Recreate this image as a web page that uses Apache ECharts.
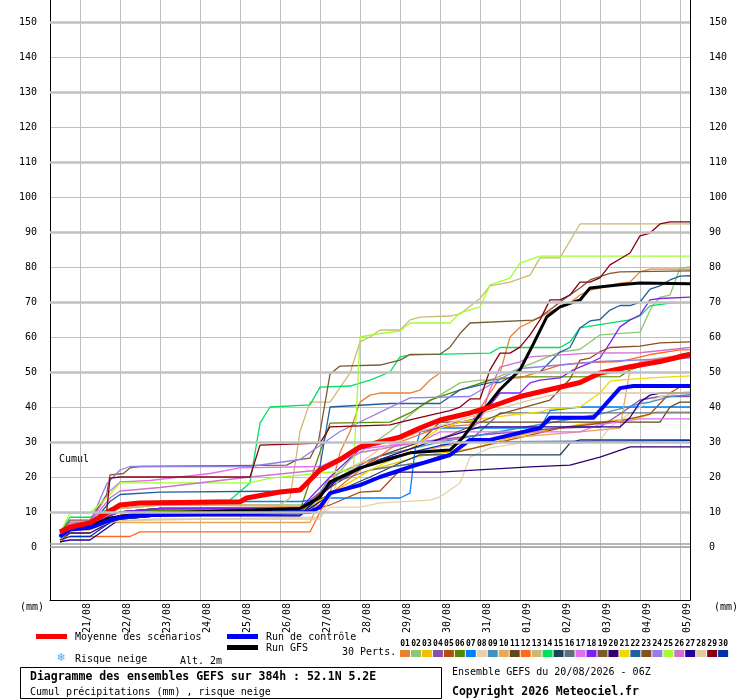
<!DOCTYPE html>
<html><head><meta charset="utf-8">
<script src="https://cdn.jsdelivr.net/npm/echarts@6/dist/echarts.min.js"></script>
<style>html,body{margin:0;padding:0;background:#fff}#c{width:740px;height:700px}</style>
</head><body><div id="c"></div>
<script>
// ---- axis ticks / labels ----
const dateLabels = ['21/08','22/08','23/08','24/08','25/08','26/08','27/08','28/08','29/08','30/08','31/08','01/09','02/09','03/09','04/09','05/09'];
const gridHours = [18,42,66,90,114,138,162,186,210,234,258,282,306,330,354,378];
const labelHours = [22.5,46.5,70.5,94.5,118.5,142.5,166.5,190.5,214.5,238.5,262.5,286.5,310.5,334.5,358.5,382.5];
const yTicks = [0,10,20,30,40,50,60,70,80,90,100,110,120,130,140,150];
const thickLines = [10,30,50,70,90,110,130,150];
const memberNames = ['01','02','03','04','05','06','07','08','09','10','11','12','13','14','15','16','17','18','19','20','21','22','23','24','25','26','27','28','29','30'];
const memberColors = ['#E8822E','#8CC870','#F0C000','#8850A8','#B05010','#588800','#0080FF','#E8D0A8','#4090C0','#E8A858','#604818','#FF6820','#D0B870','#00E060','#204058','#607078','#E070F0','#8020F0','#7A5A30','#300070','#F0D800','#2060A0','#885020','#9080E8','#A0FF30','#D070D0','#200098','#E0C8A0','#880010','#0030B0'];

// ---- series values: [forecast hour from 20/08 06Z, cumulated mm] ----
const m01 = [[6,3],[12,6],[24,6],[36,9],[42,10],[66,11],[150,11.5],[162,12],[168,15.4],[174,27],[180,33],[186,41.4],[192,43.4],[198,44],[216,44],[222,44.8],[228,47.7],[234,49.7],[270,49.7],[276,60],[282,62.8],[294,65.7],[302,67.7],[310,69],[318,72],[324,73.4],[330,74],[342,75.4],[348,75.7],[354,78.6],[360,79.4],[384,79.4]];
const m02 = [[6,3],[12,7],[24,7],[36,10],[42,11],[66,12],[156,12],[168,18],[180,25],[204,33],[222,40],[234,43.4],[246,46.9],[258,47.7],[264,47.7],[306,55.7],[318,56.5],[330,60.6],[354,61.4],[361,68.6],[366,71.4],[372,72],[378,79.7],[384,80]];
const m03 = [[6,1],[12,4],[24,4],[36,7],[42,8],[66,9],[150,10],[168,15],[192,22],[222,26],[252,28],[282,32],[318,35],[354,37],[364,38.6],[384,38.6]];
const m04 = [[6,3],[12,6],[24,6],[36,9],[42,10],[66,11],[150,11],[168,18],[192,25],[222,30],[258,32],[306,34],[330,34.3],[342,38],[354,42],[366,43],[384,43]];
const m05 = [[6,3],[12,5],[24,5],[36,8],[42,9],[66,10],[150,10],[168,12],[186,15.7],[198,16],[210,22],[234,26],[270,30],[306,34],[342,36],[360,38],[372,44],[378,45.7],[384,45.7]];
const m06 = [[6,3],[12,6],[24,6],[36,9],[42,10],[66,10.5],[150,10.5],[168,35.4],[204,35.7],[216,38.3],[228,42],[246,44.9],[264,47.7],[282,48.6],[342,48.7],[348,50.6],[360,52.6],[366,53.4],[378,55],[384,55.5]];
const m07 = [[6,3],[12,6],[24,6],[36,11],[42,12],[66,13],[150,13],[168,14],[210,14],[216,15.4],[219,27.7],[222,32.9],[234,34],[294,34],[300,39],[318,40],[384,40]];
const m08 = [[6,2],[12,5],[24,5],[36,7],[42,7.5],[66,7.7],[162,8.6],[168,11.4],[186,11.4],[198,12.6],[228,13.4],[234,14.3],[246,18.3],[252,25.7],[264,28.3],[282,29.7],[318,29.7],[330,30.6],[336,34.3],[342,36.3],[354,40],[366,43],[384,44.5]];
const m09 = [[6,3],[12,6],[24,6],[36,9],[42,10],[66,11],[156,11],[168,20],[198,26],[234,30],[270,33],[306,36],[330,38],[354,41],[360,41.4],[372,43],[384,43.5]];
const m10 = [[6,3],[12,5],[24,5],[36,7],[42,7],[66,7],[156,7],[168,20],[186,24],[210,26],[234,28.6],[270,31],[318,32.9],[342,34],[348,50.6],[354,52.9],[366,54],[384,55]];
const m11 = [[6,3],[12,6],[24,6],[36,8],[42,9],[66,10],[150,10],[168,17],[198,26],[222,30],[234,35.7],[366,35.7],[372,40],[378,41.4],[384,41.4]];
const m12 = [[6,2],[12,3],[24,3],[48,3],[54,4.3],[156,4.3],[162,10],[168,15],[186,22],[210,30],[234,34.3],[252,34.9],[264,44],[270,48.3],[282,48.3],[306,52],[318,52.6],[342,53],[360,55],[378,56.3],[384,56.3]];
const m13 = [[6,3],[12,7],[24,7],[36,10],[42,11],[66,12],[138,12],[144,14],[150,33],[156,41.4],[168,41.4],[180,49.7],[186,58.6],[192,60],[198,62],[210,62],[216,64.9],[222,65.7],[240,66],[246,66.6],[258,71],[264,74.6],[276,75.7],[288,77.7],[294,82.6],[306,82.6],[318,92.3],[384,92.3]];
const m14 = [[6,4],[12,8.5],[24,8.5],[36,11],[42,12],[66,13],[108,13.4],[120,18.3],[126,35.4],[132,40],[156,40.6],[162,45.7],[180,46],[192,47.7],[204,50],[210,54.3],[216,54.9],[264,55.4],[270,57],[306,57],[312,58.6],[318,62.6],[324,63.1],[348,64.9],[354,66],[360,68.9],[372,69.7],[384,69.9]];
const m15 = [[6,3],[12,6],[24,6],[36,9],[42,10],[66,11],[150,11],[168,15],[192,20],[210,24],[222,26.3],[306,26.3],[312,29.7],[318,30.6],[384,30.6]];
const m16 = [[6,3],[12,6],[24,6],[36,9],[42,10],[66,10],[156,10],[168,18],[192,22],[234,25],[246,28],[258,33],[270,38.3],[384,38.3]];
const m17 = [[6,4],[12,7],[24,7],[36,16],[42,18.6],[60,19],[96,21],[114,22.6],[162,23],[186,28],[222,30],[234,32.9],[318,32.9],[330,35],[354,36.6],[384,36.6]];
const m18 = [[6,3],[12,6],[24,6],[36,9],[42,10],[66,11],[150,11],[168,20],[186,28],[222,33],[258,37],[270,44],[282,44],[288,46.9],[294,47.7],[306,48.3],[314,50.6],[324,52.6],[330,54],[336,58.3],[342,62.9],[348,64.9],[354,66.3],[360,70.6],[366,71],[384,71.4]];
const m19 = [[6,4],[12,7.7],[24,7.7],[34,15],[36,20.6],[44,21],[48,22.6],[54,23],[142,23.4],[148,24.9],[156,25.4],[161,30],[168,49.4],[174,51.7],[198,52],[210,53.4],[216,55],[234,55.1],[240,57.1],[246,61],[252,64],[290,64.8],[294,65.7],[302,68.5],[310,71.4],[318,74],[324,76.3],[336,78.2],[342,78.6],[384,78.9]];
const m20 = [[6,2],[12,4],[24,4],[36,7],[42,8],[66,9],[150,9],[168,15],[192,19],[210,21.4],[234,21.4],[288,22.9],[312,23.4],[330,25.7],[348,28.6],[384,28.6]];
const m21 = [[6,2],[12,5],[24,5],[36,8],[42,9],[66,10],[150,10],[168,15],[192,22],[210,26],[222,30],[234,34],[246,35.7],[258,36.6],[282,38],[294,38.6],[300,39.4],[318,40],[330,44],[336,47.4],[342,47.7],[360,48.3],[384,48.9]];
const m22 = [[6,3],[12,6],[24,6],[36,13],[42,15],[66,15.7],[150,16],[162,23],[168,40],[204,41],[234,41],[246,44.9],[264,47],[270,47],[282,50],[294,50],[306,55.7],[312,57],[318,62.6],[324,64.6],[330,65],[336,67.7],[342,69],[348,69],[354,70],[360,73.7],[366,74.6],[372,76.3],[378,77.4],[384,77.5]];
const m23 = [[6,3],[12,6],[24,6],[36,8],[42,9],[66,10],[150,10],[168,18],[198,25],[240,32],[270,38],[300,42],[312,48],[318,53.4],[324,54],[330,55.8],[336,57],[354,57.4],[366,58.3],[384,58.6]];
const m24 = [[6,4],[12,7],[24,7],[34,18],[42,22],[48,23],[120,23],[150,25],[174,33],[216,42.6],[252,43],[270,48],[282,51],[306,52],[330,53],[384,54]];
const m25 = [[6,4],[12,9.7],[24,9.7],[36,15],[42,18.3],[120,18.3],[132,19.7],[182,22],[184,40],[186,60],[198,61],[210,61.7],[216,64],[240,64],[246,66.9],[258,68.6],[264,74.9],[276,76.8],[282,81.1],[294,83.1],[384,83.1]];
const m26 = [[6,4],[12,7],[24,7],[36,14],[42,16],[66,17],[120,20],[162,22],[186,27],[222,30],[246,31],[258,36],[264,45],[270,51.4],[282,52.9],[288,54.3],[324,55.4],[354,55.5],[384,57]];
const m27 = [[6,1.5],[12,2],[24,2],[36,6],[42,8],[66,9],[150,9],[174,20],[198,25],[228,30],[258,34.3],[342,34.3],[348,37],[354,41.4],[360,43.4],[366,44],[384,44]];
const m28 = [[6,2],[12,5],[24,5],[36,7],[42,7.5],[66,8],[162,8],[174,20],[198,28],[222,33],[258,38],[288,42],[306,44],[384,44]];
const m29 = [[6,3],[12,6],[24,6],[34,10],[36,19.7],[42,20],[120,20],[126,29.1],[162,29.7],[168,34.3],[204,34.9],[216,36.3],[234,38.3],[240,39],[246,40],[252,42.3],[258,42.3],[264,50.6],[270,55.4],[276,55.4],[282,57.1],[288,60.6],[294,64.9],[300,70.6],[306,70.6],[312,72],[318,75.7],[324,75.7],[330,76.9],[336,80.6],[342,82.3],[348,84],[354,88.9],[360,89.7],[366,92.3],[372,92.9],[384,92.9]];
const m30 = [[6,2],[12,3],[24,3],[36,7],[42,8],[66,9],[150,9],[168,18],[198,25],[234,29],[246,30],[384,30.4]];

const meanRun = [[6,4.3],[12,5.7],[24,6.9],[34,9.7],[42,12],[54,12.6],[114,12.9],[118,14],[138,15.7],[150,16.3],[162,22],[174,25],[186,28.6],[198,30],[210,31.4],[222,34],[234,36.3],[252,38.3],[264,40],[282,43],[300,45],[318,47],[330,49.7],[348,51.5],[366,53],[384,55]];
const controlRun = [[6,3],[12,5],[24,5.5],[36,7.7],[42,8.6],[54,9.1],[156,10],[162,11.4],[168,15.4],[186,17.7],[198,20],[216,22.9],[240,26.3],[246,28.5],[252,30.6],[264,30.6],[294,34],[300,36.9],[326,36.9],[330,39],[342,45.4],[350,46],[384,46]];
const gfsRun = [[6,3],[12,5.5],[24,6],[36,8.3],[54,9.5],[150,11],[156,12.6],[162,14.3],[168,18.6],[186,22.6],[198,24.3],[216,26.9],[240,27.7],[248,31.4],[258,38],[264,41.4],[270,45],[282,50.6],[290,58],[298,65.7],[306,68.6],[318,70.6],[324,74],[342,74.9],[354,75.4],[384,75.2]];

const members = [m01,m02,m03,m04,m05,m06,m07,m08,m09,m10,m11,m12,m13,m14,m15,m16,m17,m18,m19,m20,m21,m22,m23,m24,m25,m26,m27,m28,m29,m30];

const MONO = '"DejaVu Sans Mono", "Liberation Mono", monospace';
const chart = echarts.init(document.getElementById('c'), null, {renderer:'canvas'});

const series = [];
series.push({
  type:'line', data:[], z:1, silent:true, symbol:'none',
  markLine:{
    silent:true, symbol:['none','none'], label:{show:false}, animation:false,
    lineStyle:{color:'#c0c0c0', width:2.5, type:'solid'},
    data: thickLines.map(v=>({yAxis:v})).concat([
      {yAxis:0.85, lineStyle:{color:'#a0a0a0', width:1.5, type:'solid'}},
      {yAxis:0.05, lineStyle:{color:'#a0a0a0', width:1.5, type:'solid'}}
    ])
  }
});
members.forEach((d,i)=>{
  series.push({type:'line', name:memberNames[i], data:d, symbol:'none', silent:true, z:2,
    lineStyle:{width:1.3, color:memberColors[i]}, itemStyle:{color:memberColors[i]}});
});
series.push({type:'line', name:'Run GFS', data:gfsRun, symbol:'none', silent:true, z:3, lineStyle:{width:3, color:'#000000'}});
series.push({type:'line', name:'Run de contrôle', data:controlRun, symbol:'none', silent:true, z:3, lineStyle:{width:4, color:'#0000ff'}});
series.push({type:'line', name:'Moyenne des scénarios', data:meanRun, symbol:'none', silent:true, z:4, lineStyle:{width:5, color:'#ff0000'}});

const graphics = [];
function txt(x,y,t,font,extra){ graphics.push(Object.assign({type:'text', silent:true, style:{x:x,y:y,text:t,font:font,fill:'#000',align:'left',verticalAlign:'middle'}}, extra||{})); }
function rect(x,y,w,h,c){ graphics.push({type:'rect', silent:true, shape:{x:x,y:y,width:w,height:h}, style:{fill:c}}); }
txt(59,459,'Cumul','10px '+MONO);
txt(20,607,'(mm)','10px '+MONO);
txt(714,607,'(mm)','10px '+MONO);
rect(36,634,31,5,'#ff0000');
txt(75,637,'Moyenne des scénarios','10px '+MONO);
rect(227,634,31,5,'#0000ff');
txt(266,637,'Run de contrôle','10px '+MONO);
rect(227,645,31,5,'#000000');
txt(266,648,'Run GFS','10px '+MONO);
graphics.push({type:'text', silent:true, style:{x:61,y:658,text:'❄',font:'11px "DejaVu Sans"',fill:'#4aa8f0',align:'center',verticalAlign:'middle'}});
txt(75,659,'Risque neige','10px '+MONO);
txt(180,661,'Alt. 2m','10px '+MONO);
txt(342,652,'30 Perts.','10px '+MONO);
memberNames.forEach((n,i)=>{
  const x = 400 + i*10.97;
  rect(x,650,10,7,memberColors[i]);
  graphics.push({type:'text', silent:true, style:{x:x+5,y:643.5,text:n,font:'bold 8px '+MONO,fill:'#000',align:'center',verticalAlign:'middle'}});
});
graphics.push({type:'rect', silent:true, shape:{x:20.5,y:667.5,width:421,height:31}, style:{fill:'none',stroke:'#000',lineWidth:1}});
txt(30,677,'Diagramme des ensembles GEFS sur 384h : 52.1N 5.2E','bold 11.5px '+MONO);
txt(30,692,'Cumul précipitations (mm) , risque neige','10px '+MONO);
txt(452,672,'Ensemble GEFS du 20/08/2026 - 06Z','10px '+MONO);
txt(452,692,'Copyright 2026 Meteociel.fr','bold 11.5px '+MONO);

const yMin = -15.14, yMax = 156.29;
chart.setOption({
  animation:false,
  backgroundColor:'#ffffff',
  grid:{left:50, right:50, top:0, bottom:100, containLabel:false},
  xAxis:{
    type:'value', min:0, max:384, position:'bottom',
    axisLine:{show:true, onZero:false, lineStyle:{color:'#000', width:1}},
    axisTick:{show:false, customValues:gridHours},
    splitLine:{show:true, lineStyle:{color:'#c0c0c0', width:1}},
    axisLabel:{customValues:labelHours, rotate:90, margin:3, color:'#000', fontFamily:MONO, fontSize:10,
      formatter:function(v){ return dateLabels[Math.round((v-22.5)/24)] || ''; }}
  },
  yAxis:[{
    type:'value', min:yMin, max:yMax, position:'left',
    axisLine:{show:true, lineStyle:{color:'#000', width:1}},
    axisTick:{show:false, customValues:yTicks},
    splitLine:{show:true, lineStyle:{color:'#c0c0c0', width:1}},
    axisLabel:{customValues:yTicks, margin:13, color:'#000', fontFamily:MONO, fontSize:10}
  },{
    type:'value', min:yMin, max:yMax, position:'right',
    axisLine:{show:true, lineStyle:{color:'#000', width:1}},
    axisTick:{show:false, customValues:yTicks},
    splitLine:{show:false},
    axisLabel:{customValues:yTicks, margin:19, color:'#000', fontFamily:MONO, fontSize:10}
  }],
  series:series,
  graphic:graphics
});
</script></body></html>
